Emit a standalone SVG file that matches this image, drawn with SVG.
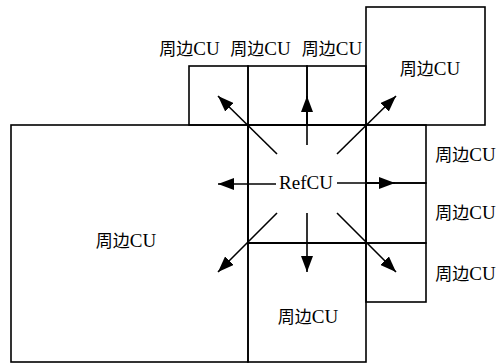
<svg xmlns="http://www.w3.org/2000/svg" width="503" height="363" viewBox="0 0 503 363">
<style>
.box{fill:none;stroke:#000;stroke-width:1.6}
.lbl{font-family:"Liberation Serif","Noto Sans CJK SC",serif;font-size:17px;fill:#000;text-anchor:middle}
.lat{font-size:19px}
.arr{stroke:#000;stroke-width:1.6;fill:none;marker-end:url(#ah)}
</style>
<defs>
<marker id="ah" viewBox="0 0 16 12" refX="16" refY="6" markerWidth="16" markerHeight="12" markerUnits="userSpaceOnUse" orient="auto">
<path d="M0,0 L16,6 L0,12 z" fill="#000"/>
</marker>
</defs>
<rect width="503" height="363" fill="#fff"/>
<g id="left-cu"><rect class="box" x="11" y="125" width="237" height="237"/><text class="lbl" x="126" y="247">周边<tspan class="lat">CU</tspan></text></g>
<g id="top-cu-1"><rect class="box" x="189" y="66" width="59" height="59"/><text class="lbl" x="189.5" y="55">周边<tspan class="lat">CU</tspan></text></g>
<g id="top-cu-2"><rect class="box" x="248" y="66" width="59" height="59"/><text class="lbl" x="260.5" y="55">周边<tspan class="lat">CU</tspan></text></g>
<g id="top-cu-3"><rect class="box" x="307" y="66" width="59" height="59"/><text class="lbl" x="332" y="55">周边<tspan class="lat">CU</tspan></text></g>
<g id="topright-cu"><rect class="box" x="366" y="7" width="119" height="118"/><text class="lbl" x="430" y="75">周边<tspan class="lat">CU</tspan></text></g>
<g id="right-cu-1"><rect class="box" x="366" y="125" width="60" height="58"/><text class="lbl" x="465.5" y="161">周边<tspan class="lat">CU</tspan></text></g>
<g id="right-cu-2"><rect class="box" x="366" y="183" width="60" height="60"/><text class="lbl" x="465.5" y="219">周边<tspan class="lat">CU</tspan></text></g>
<g id="right-cu-3"><rect class="box" x="366" y="243" width="60" height="59"/><text class="lbl" x="465.5" y="280">周边<tspan class="lat">CU</tspan></text></g>
<g id="bottom-cu"><rect class="box" x="248" y="243" width="118" height="119"/><text class="lbl" x="308" y="323">周边<tspan class="lat">CU</tspan></text></g>
<g id="ref-cu"><rect class="box" x="248" y="125" width="118" height="118" style="stroke-width:2"/><text class="lbl" x="306" y="189" style="font-size:19px">RefCU</text></g>
<g id="connectors">
<line class="arr" x1="307" y1="145" x2="307" y2="96"/>
<line class="arr" x1="277" y1="154" x2="218" y2="96"/>
<line class="arr" x1="337" y1="154" x2="396" y2="96"/>
<line class="arr" x1="276" y1="184" x2="218" y2="184"/>
<line class="arr" x1="337" y1="183" x2="395" y2="183"/>
<line class="arr" x1="277" y1="213" x2="218" y2="272"/>
<line class="arr" x1="307" y1="213" x2="307" y2="272"/>
<line class="arr" x1="337" y1="213" x2="396" y2="272"/>
</g>
</svg>
